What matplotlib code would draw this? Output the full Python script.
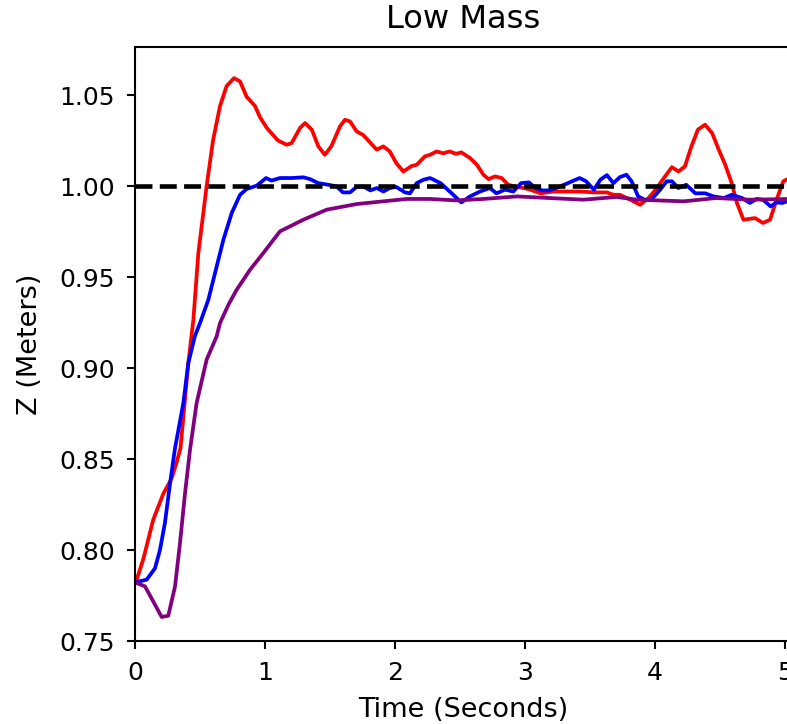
import matplotlib
matplotlib.use("Agg")
import matplotlib.pyplot as plt

t_red = [0.0, 0.013, 0.064, 0.14, 0.218, 0.28, 0.32, 0.35, 0.41, 0.449, 0.487, 0.551, 0.60, 0.654,
         0.705, 0.762, 0.808, 0.859, 0.923, 0.96, 1.013, 1.10, 1.167, 1.205, 1.27, 1.308, 1.36, 1.41,
         1.46, 1.51, 1.577, 1.615, 1.654, 1.705, 1.756, 1.859, 1.91, 1.96, 2.01, 2.064, 2.128, 2.167,
         2.23, 2.27, 2.32, 2.37, 2.42, 2.47, 2.51, 2.577, 2.63, 2.68, 2.72, 2.77, 2.82, 2.87, 2.94,
         2.99, 3.04, 3.12, 3.22, 3.32, 3.42, 3.53, 3.63, 3.68, 3.73, 3.81, 3.885, 3.95, 4.0, 4.05,
         4.13, 4.18, 4.23, 4.28, 4.33, 4.385, 4.44, 4.49, 4.54, 4.59, 4.63, 4.68, 4.77, 4.83, 4.885,
         4.935, 4.987, 5.05]
z_red = [0.783, 0.7837, 0.795, 0.8166, 0.831, 0.839, 0.848, 0.856, 0.9027, 0.9265, 0.963, 1.0,
         1.025, 1.044, 1.055, 1.0593, 1.0575, 1.049, 1.044, 1.038, 1.032, 1.025, 1.0227, 1.0236,
         1.032, 1.0346, 1.031, 1.0218, 1.0172, 1.0218, 1.0328, 1.0364, 1.0355, 1.030, 1.028, 1.020,
         1.0218, 1.019, 1.0126, 1.008, 1.011, 1.0117, 1.0163, 1.0172, 1.019, 1.018, 1.019, 1.0177,
         1.0185, 1.0154, 1.0117, 1.0062, 1.0038, 1.0053, 1.0044, 1.0007, 0.9995, 0.9989, 0.998,
         0.996, 0.997, 0.997, 0.997, 0.9965, 0.9965, 0.9952, 0.9952, 0.9925, 0.9897, 0.9934, 0.9976,
         1.0026, 1.0104, 1.008, 1.0108, 1.0218, 1.031, 1.0337, 1.029, 1.020, 1.0117, 1.0016, 0.9907,
         0.9815, 0.9824, 0.9797, 0.9815, 0.9925, 1.0026, 1.005]

t_blue = [0.0, 0.09, 0.154, 0.192, 0.23, 0.27, 0.308, 0.372, 0.41, 0.46, 0.5, 0.564, 0.615, 0.68,
          0.744, 0.808, 0.859, 0.936, 1.008, 1.05, 1.115, 1.205, 1.295, 1.346, 1.41, 1.487, 1.55,
          1.60, 1.654, 1.705, 1.756, 1.81, 1.86, 1.91, 1.96, 2.01, 2.077, 2.115, 2.167, 2.22, 2.27,
          2.35, 2.436, 2.51, 2.577, 2.654, 2.73, 2.78, 2.846, 2.91, 2.97, 3.03, 3.08, 3.13, 3.18,
          3.24, 3.32, 3.42, 3.47, 3.53, 3.58, 3.63, 3.68, 3.73, 3.78, 3.82, 3.87, 3.92, 3.97, 4.04,
          4.09, 4.13, 4.18, 4.24, 4.31, 4.385, 4.45, 4.53, 4.59, 4.67, 4.73, 4.78, 4.83, 4.89, 4.935,
          4.98, 5.05]
z_blue = [0.7822, 0.7837, 0.790, 0.800, 0.8148, 0.8368, 0.856, 0.8808, 0.9027, 0.9174, 0.9247,
          0.9375, 0.952, 0.9705, 0.9852, 0.9952, 0.9984, 1.0002, 1.0044, 1.003, 1.0044, 1.0044,
          1.0048, 1.0038, 1.0016, 1.0007, 0.9998, 0.9965, 0.9965, 0.9995, 0.9998, 0.9976, 0.9989,
          0.997, 0.9989, 0.9995, 0.9965, 0.996, 1.0016, 1.0035, 1.0044, 1.0016, 0.996, 0.991,
          0.9943, 0.997, 0.9989, 0.996, 0.998, 0.997, 1.0016, 1.002, 0.9989, 0.9976, 0.9976,
          0.9989, 1.0013, 1.0044, 1.0026, 0.998, 1.0035, 1.0060, 1.0016, 1.0049, 1.0062, 1.0026,
          0.9943, 0.9925, 0.9925, 0.998, 1.0026, 1.0026, 0.9989, 1.0007, 0.996, 0.996, 0.9943,
          0.9934, 0.9952, 0.9934, 0.9907, 0.9929, 0.9925, 0.9888, 0.991, 0.9907, 0.9925]

t_purple = [0.0, 0.077, 0.14, 0.205, 0.256, 0.308, 0.346, 0.385, 0.423, 0.474, 0.551, 0.628,
            0.654, 0.72, 0.782, 0.885, 0.987, 1.115, 1.295, 1.474, 1.705, 1.91, 2.09, 2.27, 2.47,
            2.68, 2.94, 3.19, 3.45, 3.705, 3.86, 4.22, 4.47, 4.73, 5.05]
z_purple = [0.7822, 0.780, 0.7718, 0.7632, 0.7639, 0.780, 0.8038, 0.8313, 0.855, 0.8808, 0.9046,
            0.9174, 0.9247, 0.935, 0.943, 0.954, 0.9632, 0.9751, 0.9815, 0.987, 0.9901, 0.9916,
            0.9929, 0.9929, 0.9921, 0.9929, 0.9943, 0.9934, 0.9925, 0.994, 0.9925, 0.9916, 0.9934,
            0.9925, 0.9929]

target_z = 1.0
x_ticks = [0, 1, 2, 3, 4, 5]
y_ticks = [0.75, 0.80, 0.85, 0.90, 0.95, 1.00, 1.05]

W, H = 787, 724
dpi = 150
fig = plt.figure(figsize=(W / dpi, H / dpi), dpi=dpi)
ax = fig.add_axes([135 / W, (H - 641) / H, (791 - 135) / W, (641 - 47) / H])

ax.plot(t_red, z_red, color="red", lw=1.8)
ax.plot(t_blue, z_blue, color="blue", lw=1.8)
ax.plot(t_purple, z_purple, color="purple", lw=1.8)
ax.axhline(target_z, color="black", ls="--", lw=2.2)

ax.set_xlim(0, 5.046)
ax.set_ylim(0.75, 1.0764)
ax.set_xticks(x_ticks)
ax.set_yticks(y_ticks)
ax.set_xticklabels([str(v) for v in x_ticks])
ax.set_yticklabels([f"{v:.2f}" for v in y_ticks])
ax.tick_params(labelsize=12, length=4, width=1, pad=5.5)
for s in ax.spines.values():
    s.set_linewidth(1)
ax.set_xlabel("Time (Seconds)", fontsize=13, labelpad=6)
ax.set_ylabel("Z (Meters)", fontsize=13, labelpad=8)
ax.set_title("Low Mass", fontsize=15.4, pad=9)

fig.savefig("out.png", dpi=dpi)
